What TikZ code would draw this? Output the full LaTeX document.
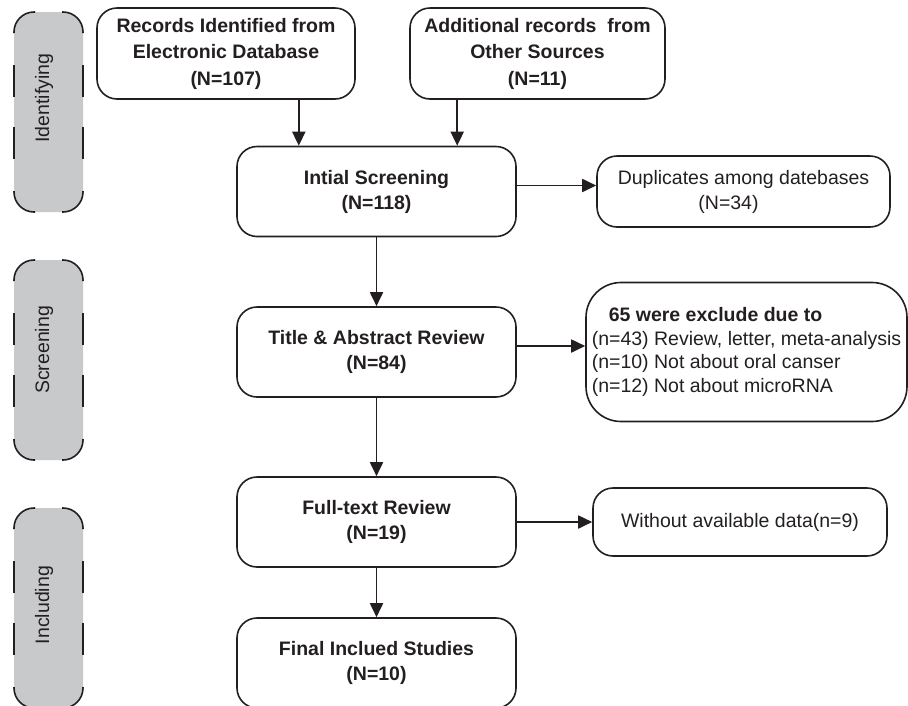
\documentclass[tikz,border=0pt]{standalone}
\usepackage{fontspec}
\setmainfont{Liberation Sans}
\usetikzlibrary{positioning,arrows.meta}

\definecolor{ink}{HTML}{231F20}
\definecolor{stagegray}{HTML}{C8C9CB}

\begin{document}
\begin{tikzpicture}[x=1pt,y=-1pt,on grid,
    every node/.style={text=ink},
    box/.style={draw=ink,line width=1.6pt,rounded corners=20pt,inner sep=0pt,
      minimum width=279pt,minimum height=90pt,align=center,
      font=\fontsize{19.5}{25}\selectfont\bfseries},
    note/.style={box,font=\fontsize{19.5}{25}\selectfont},
    flow/.style={draw=ink,line width=1.8pt,-{Triangle[length=14pt,width=13pt]}},
    stage/.style={draw=ink,line width=1.6pt,rounded corners=20pt}]
    \useasboundingbox (0,0) rectangle (908,705);
    % stage bars on the left
    \foreach \top/\name/\lift in {12/Identifying/14,260/Screening/10,508/Including/3}{
      \fill[stagegray,rounded corners=20pt] (14,\top) rectangle (83,\top+200);
      \draw[stage] (14,\top+21) -- (14,\top) -- (35,\top);
      \draw[stage] (62,\top) -- (83,\top) -- (83,\top+21);
      \draw[stage] (83,\top+179) -- (83,\top+200) -- (62,\top+200);
      \draw[stage] (35,\top+200) -- (14,\top+200) -- (14,\top+179);
      \foreach \x in {14,83}{
        \draw[stage] (\x,\top+53) -- (\x,\top+85);
        \draw[stage] (\x,\top+115) -- (\x,\top+147);
      }
      \node[rotate=90,font=\fontsize{19.5}{25}\selectfont] (\name) at (44,\top+100-\lift) {\name};
    }
    % main column
    \node[box] (init) at (376.5,191.5) {Intial Screening\\(N=118)};
    \node[box,minimum width=258pt,minimum height=91pt,font=\fontsize{19.5}{26.5}\selectfont\bfseries]
      (rec) [above left=138pt and 150.5pt of init] {Records Identified from\\Electronic Database\\(N=107)};
    \node[box,minimum width=255pt,minimum height=91pt,font=\fontsize{19.5}{26.5}\selectfont\bfseries]
      (add) [above right=138pt and 161pt of init] {Additional records\ \ from\\Other Sources\\(N=11)};
    \node[box] (title) [below=160.5pt of init]  {Title \& Abstract Review\\(N=84)};
    \node[box] (full)  [below=170pt of title]   {Full-text Review\\(N=19)};
    \node[box] (final) [below=141pt of full]    {Final Inclued Studies\\(N=10)};
    % excluded records
    \node[note,minimum width=293pt,minimum height=71pt] (dup) [right=367pt of init]
      {Duplicates among datebases\\(N=34)\hspace*{30pt}};
    \node[note,rounded corners=35pt,minimum width=321pt,minimum height=139pt,align=left,
      font=\fontsize{19.5}{23.5}\selectfont] (excl) [right=370pt of title]
      {\hspace*{17pt}\textbf{65 were exclude due to}\\(n=43) Review, letter, meta-analysis\\
       (n=10) Not about oral canser\\(n=12) Not about microRNA};
    \node[note,minimum width=294pt,minimum height=68pt] (nodata) [right=363.5pt of full]
      {Without available data(n=9)};
    \coordinate (recout) at ([xshift=-57pt]rec.south east);
    \coordinate (addout) at ([xshift=48pt]add.south west);
    \coordinate (initout) at ([yshift=6pt]init.east);
    \coordinate (titleout) at ([yshift=6pt]title.east);
    % into the screening
    \draw[flow] (recout) -- (recout |- init.north);
    \draw[flow] (addout) -- (addout |- init.north);
    % down the column
    \draw[flow] (init)  -- (title);
    \draw[flow] (title) -- (full);
    \draw[flow] (full)  -- (final);
    % side exits
    \draw[flow] (initout)   -- (initout -| dup.west);
    \draw[flow] (titleout)  -- (titleout -| excl.west);
    \draw[flow] (full.east) -- (full.east -| nodata.west);
\end{tikzpicture}
\end{document}
